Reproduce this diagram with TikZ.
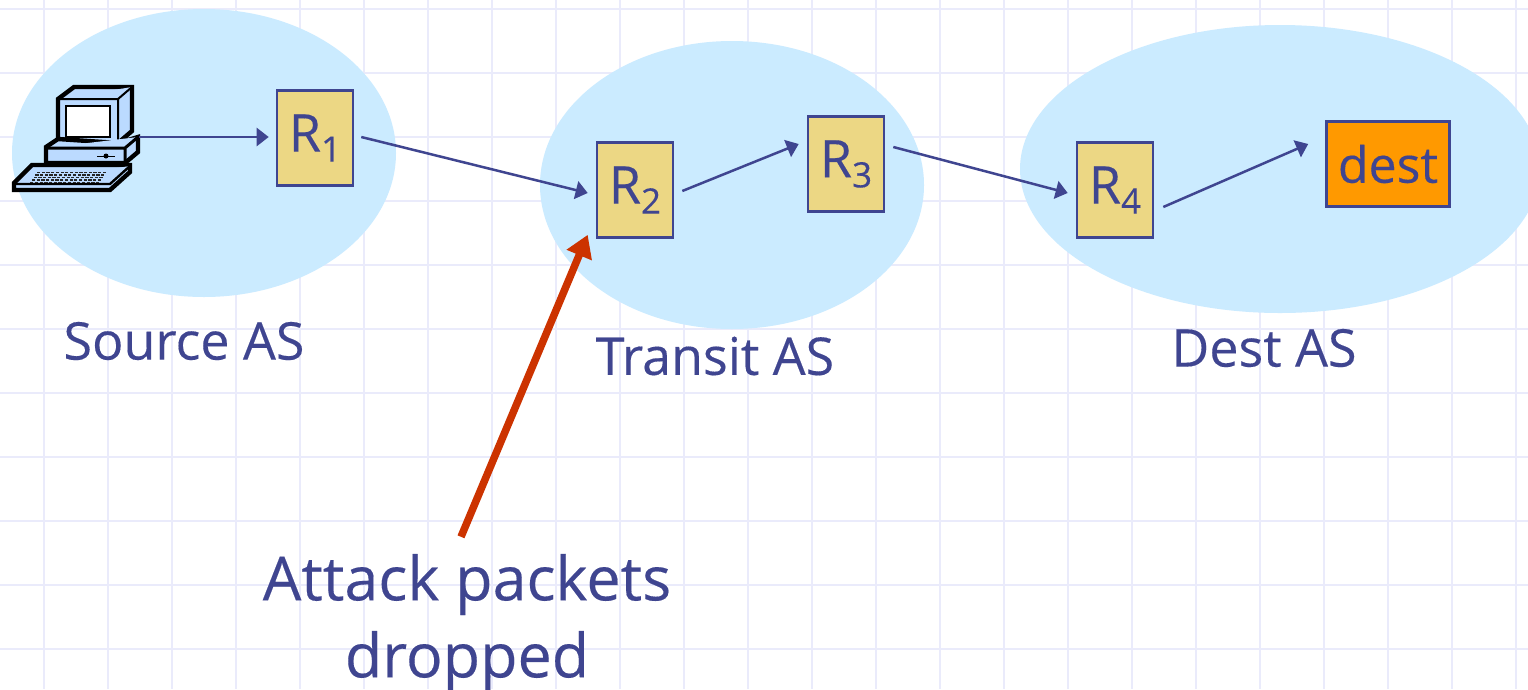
\documentclass[tikz,border=0pt]{standalone}
\usepackage{fontspec}
\setmainfont{Open Sans}[FakeBold=0.25]
\usetikzlibrary{calc,arrows.meta}
\definecolor{ink}{HTML}{3F4590}
\definecolor{gridc}{HTML}{EAEBFB}
\definecolor{cloud}{HTML}{CBEBFF}
\definecolor{sand}{HTML}{ECD784}
\definecolor{orng}{HTML}{FF9900}
\definecolor{redarrow}{HTML}{CC3300}
\definecolor{pcblue}{HTML}{BBDAFF}
\tikzset{
  gridline/.style={draw=gridc,line width=2.4pt},
  router/.style={draw=ink,line width=2.6pt,fill=sand,minimum width=76pt,minimum height=95pt,inner sep=0pt,text=ink,font=\fontsize{52}{56}\selectfont},
  destbox/.style={draw=ink,line width=2.6pt,fill=orng,minimum width=123pt,minimum height=85pt,inner sep=0pt,text=ink,font=\fontsize{50}{54}\selectfont},
  label/.style={text=ink,inner sep=0pt,align=center},
  link/.style={draw=ink,line width=2.5pt,-{Triangle[length=12pt,width=18pt]}},
  dropped/.style={draw=redarrow,line width=7.5pt,-{Triangle[length=22pt,width=26pt]}},
  pc/.style={draw=black,line width=4.4pt,fill=pcblue,line join=miter},
}
\newcommand{\rsub}[1]{R\raisebox{-10pt}{\fontsize{35}{37}\selectfont #1}}
\begin{document}
\begin{tikzpicture}[x=1pt,y=-1pt]
\useasboundingbox (0,0) rectangle (1528,689);
\clip (0,0) rectangle (1528,689);
\fill[white] (0,0) rectangle (1528,689);
\foreach \i in {0,...,23} {\draw[gridline] (44+64*\i,0) -- (44+64*\i,689);}
\foreach \j in {0,...,10} {\draw[gridline] (0,9+64*\j) -- (1528,9+64*\j);}
% AS areas
\fill[cloud] (204,153) ellipse [x radius=192,y radius=144];
\fill[cloud] (732,185) ellipse [x radius=192,y radius=144];
\fill[cloud] (1280,169) ellipse [x radius=260,y radius=144];
% routers
\node[router] (R1) at (315,138) {\rsub{1}};
\node[router] (R2) at (635,190) {\rsub{2}};
\node[router] (R3) at (846,164) {\rsub{3}};
\node[router] (R4) at (1115,190) {\rsub{4}};
\node[destbox] (dest) at (1388,164) {dest};
% computer
\coordinate (pc) at (139,137);
\begin{scope}
\filldraw[pc] (58,99) -- (74,87) -- (132,87) -- (132,131) -- (118,143) -- (58,143) -- cycle;
\draw[pc,line width=2pt] (58,99) -- (118,99) -- (132,87) (118,99) -- (118,143);
\filldraw[draw=black,fill=white,line width=2pt] (66,106) -- (110,106) -- (110,137) -- (66,137) -- cycle;
\filldraw[pc] (46,147) -- (58,139) -- (118,143) -- (138,137) -- (138,152) -- (125,163) -- (46,163) -- cycle;
\draw[pc,line width=3pt] (46,148) -- (125,148) -- (138,137) (125,148) -- (125,163);
\draw[black,line width=1pt] (97,156) -- (115,156);
\fill[black] (106,156) circle (2.5);
\filldraw[pc] (14,190) -- (14,183) -- (32,165) -- (130,165) -- (130,172) -- (110,190) -- cycle;
\draw[pc,line width=2.4pt] (14,184) -- (110,184) -- (130,166);
\foreach \r in {0,1,2,3,4} {
  \foreach \k in {0,...,14} {
    \fill[black!85] ({37-\r*1.7+\k*4.7},{171.5+\r*2.5}) rectangle +(3.2,1.6);
  }
}
\end{scope}
% connectors
\draw[link] (pc) -- ($(R1.west)+(-7,-1)$);
\draw[link] ($(R1.east)+(7,-1)$) -- ($(R2.west)+(-8,3)$);
\draw[link] ($(R2.east)+(8,1)$) -- ($(R3.west)+(-8,-20)$);
\draw[link] ($(R3.east)+(8,-17)$) -- ($(R4.west)+(-8,3)$);
\draw[link] ($(R4.east)+(9,17)$) -- ($(dest.west)+(-17,-20)$);
% labels
\node[label,font=\fontsize{52}{56}\selectfont] (lsrc) at (184,341) {Source AS};
\node[label,font=\fontsize{52}{56}\selectfont] (ltr) at (715,356) {Transit AS};
\node[label,font=\fontsize{52}{56}\selectfont] (ldst) at (1264,348) {Dest AS};
\node[label,font=\fontsize{61}{77}\selectfont] (attack) at (467,623) {Attack packets\\dropped};
\draw[dropped] ($(attack.north)+(-6,-17)$) -- ($(R2.south west)+(-8,-4)$);
\end{tikzpicture}
\end{document}
